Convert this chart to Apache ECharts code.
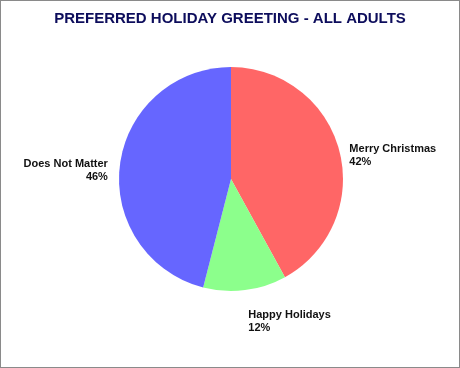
<!DOCTYPE html>
<html><head><meta charset="utf-8">
<script src="https://cdn.jsdelivr.net/npm/echarts@6/dist/echarts.min.js"></script>
<style>
html,body{margin:0;padding:0;background:#fff;}
#c{width:458px;height:366px;border:1px solid #8a8a8a;}
</style></head><body>
<div id="c"></div>
<script>
const titleText = 'PREFERRED HOLIDAY GREETING - ALL ADULTS';
const categories = ['Merry Christmas', 'Happy Holidays', 'Does Not Matter'];
const values = [42, 12, 46];
const colors = ['#FF6666', '#8CFF8C', '#6666FF'];
const lineLengths = [[4, 6], [18, 0], [2, 10]];
const labelShift = [[-5, 5], [-4, 13], [5, 6]];

const chart = echarts.init(document.getElementById('c'), null, {renderer: 'canvas'});
chart.setOption({
  backgroundColor: '#fff',
  animation: false,
  title: {
    text: titleText, left: 'center', top: 5,
    textStyle: {fontFamily: 'Liberation Sans, Arial, sans-serif', fontSize: 15, fontWeight: 'bold', color: '#0d0d5c'}
  },
  series: [{
    type: 'pie',
    center: [230, 178],
    radius: 112,
    startAngle: 90,
    clockwise: true,
    avoidLabelOverlap: false,
    label: {
      show: true, position: 'outside',
      formatter: '{b}\n{c}%',
      fontFamily: 'Liberation Sans, Arial, sans-serif', fontSize: 11, fontWeight: 'bold', color: '#111',
      lineHeight: 13
    },
    labelLine: {show: false},
    labelLayout: function (p) {
      const s = labelShift[p.dataIndex];
      return {dx: s[0], dy: s[1]};
    },
    itemStyle: {borderWidth: 0},
    emphasis: {disabled: true},
    data: categories.map((n, i) => ({
      name: n, value: values[i],
      itemStyle: {color: colors[i]},
      labelLine: {show: false, length: lineLengths[i][0], length2: lineLengths[i][1]}
    }))
  }]
});
</script></body></html>
